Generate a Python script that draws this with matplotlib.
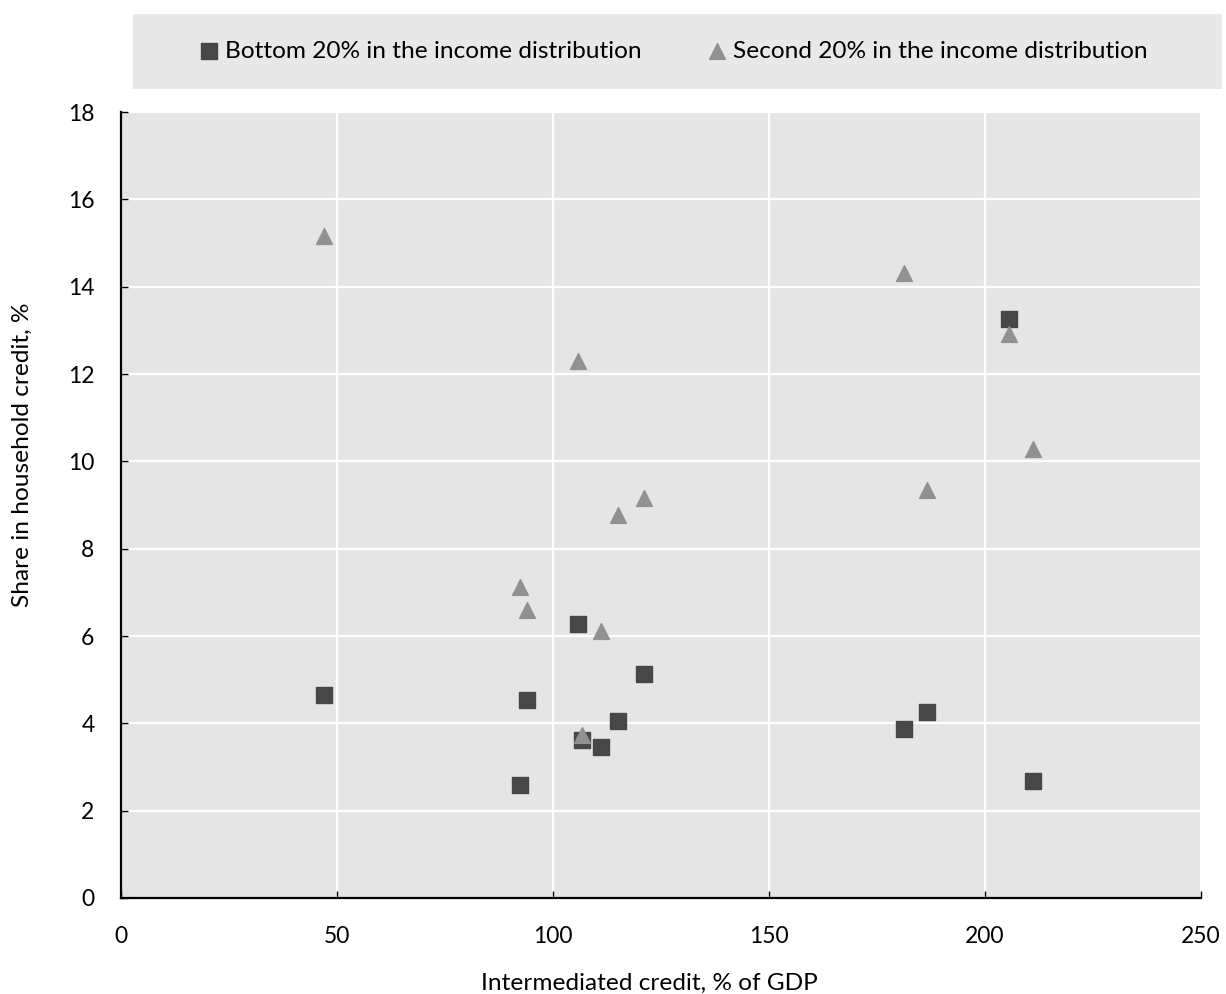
import matplotlib.pyplot as plt
from matplotlib.patches import Rectangle

plt.rcParams['font.family'] = ['Lato', 'DejaVu Sans']

# Intermediated credit, % of GDP (one value per country)
credit_gdp = [47.1, 92.3, 93.9, 105.7, 106.7, 111.0, 115.0, 121.0, 181.3, 186.5, 205.5, 211.2]
# Share in household credit, %
bottom_20 = [4.64, 2.59, 4.54, 6.27, 3.62, 3.45, 4.06, 5.13, 3.88, 4.26, 13.26, 2.68]
second_20 = [15.16, 7.12, 6.59, 12.29, 3.74, 6.12, 8.76, 9.15, 14.31, 9.34, 12.92, 10.29]

series_labels = ['Bottom 20% in the income distribution',
                 'Second 20% in the income distribution']
x_ticks = [0, 50, 100, 150, 200, 250]
y_ticks = [0, 2, 4, 6, 8, 10, 12, 14, 16, 18]

W, H = 1226, 994
fig = plt.figure(figsize=(W / 100, H / 100), dpi=100)
ax = fig.add_axes([121 / W, 1 - 898 / H, (1201 - 121) / W, (898 - 112) / H])

ax.set_facecolor('#e5e5e5')
ax.grid(True, color='white', lw=1.6)
ax.set_axisbelow(True)

# triangles drawn after squares, like the reference
ax.scatter(credit_gdp, bottom_20, marker='s', s=120, color='#474747',
           label=series_labels[0], zorder=3)
ax.scatter(credit_gdp, second_20, marker='^', s=130, color='#919191',
           label=series_labels[1], zorder=4)

ax.set_xlim(0, 250)
ax.set_ylim(0, 18)
ax.set_xticks(x_ticks)
ax.set_yticks(y_ticks)
ax.tick_params(direction='in', length=5, width=1, labelsize=16.5, colors='black')
ax.tick_params(axis='x', pad=20)
ax.tick_params(axis='y', pad=19)

for side in ['top', 'right']:
    ax.spines[side].set_visible(False)
for side in ['left', 'bottom']:
    ax.spines[side].set_linewidth(1.6)
    ax.spines[side].set_color('black')

# axis titles placed in figure pixels
fig.text(649 / W, 1 - 990 / H, 'Intermediated credit, % of GDP', fontsize=17.6,
         ha='center', va='baseline')
fig.text(22 / W, 1 - 455 / H, 'Share in household credit, %', fontsize=17.6,
         ha='center', va='center', rotation=90)

# legend band on top
fig.patches.append(Rectangle((133 / W, 1 - 89 / H), (1222 - 133) / W, 75 / H,
                             transform=fig.transFigure, facecolor='#e8e8e8',
                             edgecolor='none', zorder=0))
handles, labels = ax.get_legend_handles_labels()
fig.legend(handles, labels, loc='center', bbox_to_anchor=(672 / W, 1 - 51 / H),
           ncol=2, frameon=False, fontsize=17.6, handletextpad=0.14,
           columnspacing=2.6, markerscale=1.0, handlelength=1.0,
           borderpad=0, borderaxespad=0)

fig.savefig('out.png', dpi=100)
